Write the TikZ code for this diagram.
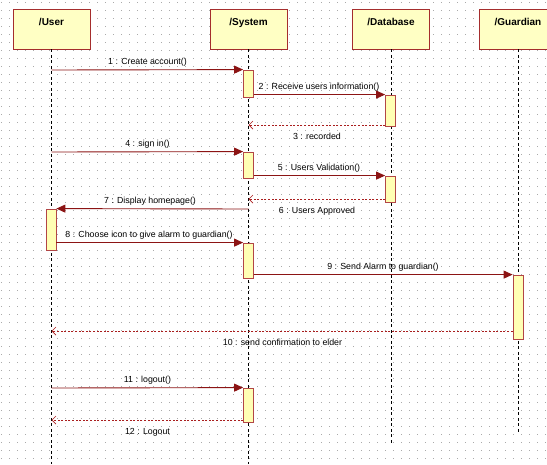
\documentclass[tikz,border=0pt]{standalone}
\usepackage{fontspec}
\setmainfont{Liberation Sans}
\usetikzlibrary{arrows.meta}
\definecolor{hdrfill}{RGB}{255,255,196}
\definecolor{hdrdraw}{RGB}{165,45,45}
\definecolor{actfill}{RGB}{255,255,180}
\definecolor{actdraw}{RGB}{178,70,70}
\definecolor{msgcol}{RGB}{140,20,20}
\definecolor{retcol}{RGB}{170,30,30}
\definecolor{dotcol}{RGB}{170,170,170}
\tikzset{
  hdr/.style={draw=hdrdraw, fill=hdrfill, line width=0.9pt, minimum width=77pt, minimum height=40pt, inner sep=0pt},
  hdrtext/.style={font=\fontsize{10}{12}\selectfont\bfseries, anchor=base, inner sep=0pt},
  life/.style={black, line width=0.6pt, dash pattern=on 3pt off 2.5pt},
  act/.style={draw=actdraw, fill=actfill, line width=0.8pt, minimum width=10pt, inner sep=0pt},
  sync/.style={msgcol, line width=0.9pt, -{Triangle[length=9pt,width=8pt]}},
  ret/.style={retcol, line width=0.7pt, dash pattern=on 2pt off 1.6pt, -{Straight Barb[length=4pt,width=8pt]}},
  lbl/.style={font=\fontsize{8.8}{10}\selectfont, anchor=base, inner sep=0pt, text=black}
}
\begin{document}
\begin{tikzpicture}[x=1pt,y=-1pt]
\useasboundingbox (0,0) rectangle (547,464);
\clip (0,0) rectangle (547,464);
\fill[white] (0,0) rectangle (547,464);
% dot grid
\foreach \yy in {2,10,...,464}{
  \draw[dotcol, line width=0.9pt, dash pattern=on 0.9pt off 7.1pt] (1,\yy) -- (547,\yy);
}
\coordinate (ybot) at (0,464);
% headers
\node[hdr] (user) at (51.5,29) {};
\node[hdr] (system) at (248.5,29) {};
\node[hdr] (database) at (391,29) {};
\node[hdr] (guardian) at (518,29) {};
% lifelines
\draw[life] (user.south) -- (user.south |- ybot);
\draw[life] (system.south) -- (system.south |- ybot);
\coordinate (dbend) at (391,445);
\coordinate (gdend) at (518,433);
\draw[life] (database.south) -- (dbend);
\draw[life] (guardian.south) -- (gdend);
% header titles
\node[hdrtext] (tuser) at (51.5,25) {/User};
\node[hdrtext] (tsystem) at (248.5,25) {/System};
\node[hdrtext] (tdatabase) at (391,25) {/Database};
\node[hdrtext] (tguardian) at (518,25) {/Guardian};
% activations
\node[act, minimum height=27pt] (s1) at (248.5,83.5) {};
\node[act, minimum height=31pt] (d1) at (390.5,110.5) {};
\node[act, minimum height=26pt] (s2) at (248.5,165) {};
\node[act, minimum height=26pt] (d2) at (390.5,189) {};
\node[act, minimum height=41pt] (u1) at (51,229.5) {};
\node[act, minimum height=35pt] (s3) at (248.5,260.5) {};
\node[act, minimum height=64pt] (g1) at (518,307) {};
\node[act, minimum height=34pt] (s4) at (248.5,405) {};
% anchor points on lifelines
\coordinate (u70) at (51.5,70);
\coordinate (u152) at (51.5,152);
\coordinate (u331) at (51.5,331);
\coordinate (u388) at (51.5,388);
\coordinate (u420) at (51.5,420);
\coordinate (sy125) at (248.5,125);
\coordinate (sy199) at (248.5,199);
\coordinate (sy209) at (248.5,209);
% messages
\draw[sync] (u70) -- (s1.north west);
\draw[sync] (s1.east |- d1.north west) -- (d1.north west);
\draw[ret] (d1.west |- sy125) -- (sy125);
\draw[sync] (u152) -- (s2.north west);
\draw[sync] (s2.east |- d2.north west) -- (d2.north west);
\draw[ret] (d2.west |- sy199) -- (sy199);
\draw[sync] (sy209) -- (u1.north east);
\draw[sync] (u1.east |- s3.north west) -- (s3.north west);
\draw[sync] (s3.east |- g1.north west) -- (g1.north west);
\draw[ret] (g1.west |- u331) -- (u331);
\draw[sync] (u388) -- (s4.north west);
\draw[ret] (s4.west |- u420) -- (u420);
% labels
\node[lbl] (l1) at (147.5,64) {1 : Create account()};
\node[lbl] (l2) at (319,89) {2 : Receive users information()};
\node[lbl] (l3) at (317,139.5) {3 : recorded};
\node[lbl] (l4) at (147.5,146) {4 : sign in()};
\node[lbl] (l5) at (319,170) {5 : Users Validation()};
\node[lbl] (l6) at (317,213.5) {6 : Users Approved};
\node[lbl] (l7) at (150,203) {7 : Display homepage()};
\node[lbl] (l8) at (149,237) {8 : Choose icon to give alarm to guardian()};
\node[lbl] (l9) at (383,269) {9 : Send Alarm to guardian()};
\node[lbl] (l10) at (282.5,345.5) {10 : send confirmation to elder};
\node[lbl] (l11) at (147.5,382) {11 : logout()};
\node[lbl] (l12) at (147.5,434.5) {12 : Logout};
\end{tikzpicture}
\end{document}
